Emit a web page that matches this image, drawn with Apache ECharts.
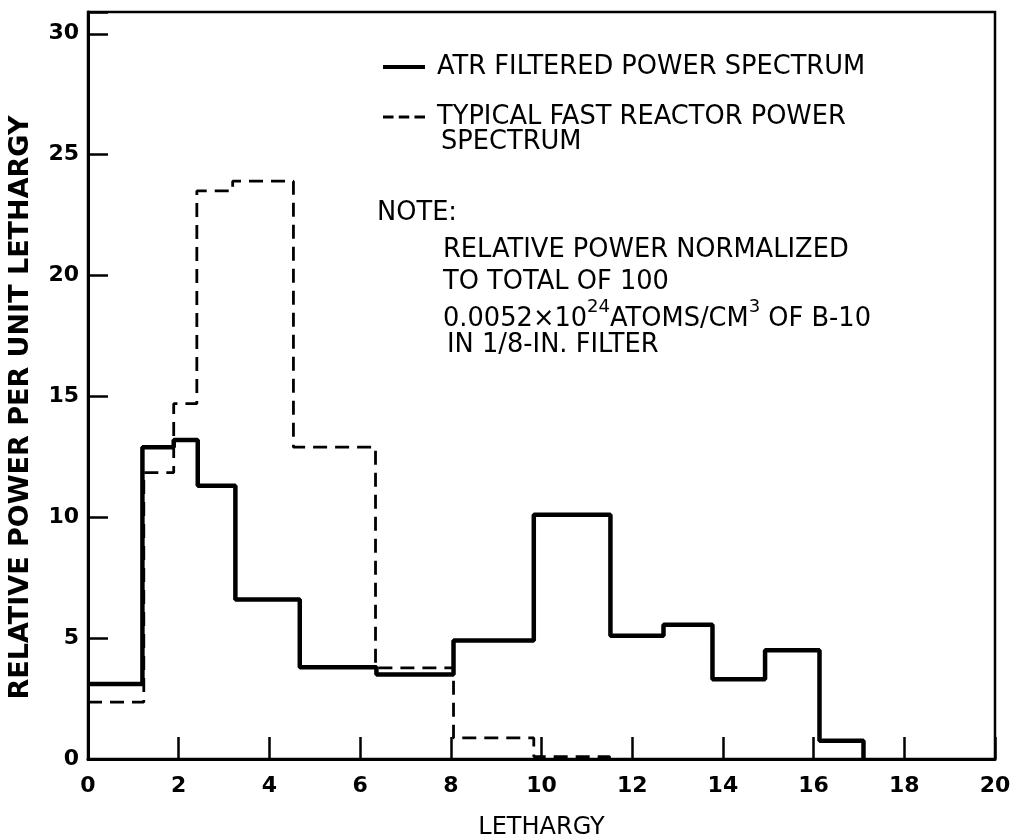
<!DOCTYPE html>
<html>
<head>
<meta charset="utf-8">
<script src="https://cdn.jsdelivr.net/npm/echarts@6/dist/echarts.min.js"></script>
<style>
  html, body { margin: 0; padding: 0; background: #fff; }
  #chart { width: 1016px; height: 838px; }
</style>
</head>
<body>
<div id="chart"></div>
<script>
// bin edges (lethargy) and power per unit lethargy
const atrEdges = [0, 1.2, 1.89, 2.42, 3.25, 4.67, 6.36, 8.06, 9.83, 11.52, 12.69, 13.77, 14.93, 16.13, 17.1];
const atrValues = [3.1, 12.9, 13.2, 11.3, 6.6, 3.8, 3.5, 4.9, 10.1, 5.1, 5.55, 3.3, 4.5, 0.75, 0];
const fastEdges = [0, 1.23, 1.89, 2.4, 3.19, 4.53, 6.34, 8.06, 9.83, 11.5];
const fastValues = [2.35, 11.85, 14.7, 23.5, 23.9, 12.9, 3.77, 0.87, 0.1, 0];
const xTicks = [0, 2, 4, 6, 8, 10, 12, 14, 16, 18, 20];
const yTicks = [0, 5, 10, 15, 20, 25, 30];

const FONT = '"DejaVu Sans", sans-serif';
const TXT = '25.7px ' + FONT;
const ATR_NAME = 'ATR FILTERED POWER SPECTRUM';
const FAST_NAME = 'TYPICAL FAST REACTOR POWER';

const pairs = (xs, ys) => xs.map((x, i) => [x, ys[i]]);

// note lines under the legend
const noteText = (x, y, text) => ({
  type: 'text', x, y,
  style: { text, font: TXT, fill: '#000', verticalAlign: 'middle' }
});

const chart = echarts.init(document.getElementById('chart'));
chart.setOption({
  backgroundColor: '#fff',
  animation: false,
  grid: {
    left: 88, right: 21, top: 12, bottom: 79,
    outerBoundsMode: 'none',
    containLabel: false,
    show: true,
    borderColor: '#000',
    borderWidth: 2.5
  },
  legend: {
    orient: 'vertical',
    left: 378, top: 47,
    itemWidth: 42, itemHeight: 4,
    itemGap: 20,
    data: [
      { name: ATR_NAME, icon: 'rect' },
      { name: FAST_NAME, icon: 'path://M0,0h10v3h-10z M15,0h10v3h-10z M30,0h10v3h-10z' }
    ],
    textStyle: { fontFamily: FONT, fontSize: 25.7, lineHeight: 30, color: '#000', padding: [0, 0, 0, 7] }
  },
  xAxis: {
    type: 'value',
    min: 0, max: 20, interval: 2,
    name: 'LETHARGY',
    nameLocation: 'middle',
    nameGap: 57,
    nameTextStyle: { fontFamily: FONT, fontSize: 24, color: '#000' },
    axisLine: { lineStyle: { color: '#000', width: 3 } },
    axisTick: { inside: true, length: 22, lineStyle: { color: '#000', width: 2.5 } },
    axisLabel: {
      margin: 16, color: '#000', fontFamily: FONT, fontSize: 22, fontWeight: 'bold',
      formatter: v => xTicks.includes(v) ? String(v) : ''
    },
    splitLine: { show: false }
  },
  yAxis: {
    type: 'value',
    min: 0, max: 30.9, interval: 5,
    name: 'RELATIVE POWER PER UNIT LETHARGY',
    nameLocation: 'middle',
    nameGap: 54,
    nameRotate: 90,
    nameTextStyle: { fontFamily: FONT, fontSize: 27, fontWeight: 'bold', color: '#000', padding: [0, 0, 0, -44] },
    axisLine: { lineStyle: { color: '#000', width: 3 } },
    axisTick: { inside: true, length: 20, lineStyle: { color: '#000', width: 2.5 } },
    axisLabel: {
      margin: 9, color: '#000', fontFamily: FONT, fontSize: 22, fontWeight: 'bold',
      formatter: v => yTicks.includes(v) ? String(v) : ''
    },
    splitLine: { show: false }
  },
  series: [
    {
      name: FAST_NAME,
      type: 'line',
      step: 'end',
      symbol: 'none',
      data: pairs(fastEdges, fastValues),
      lineStyle: { color: '#000', width: 2.8, type: [14, 8] },
      itemStyle: { color: '#000' },
      z: 2
    },
    {
      name: ATR_NAME,
      type: 'line',
      step: 'end',
      symbol: 'none',
      data: pairs(atrEdges, atrValues),
      lineStyle: { color: '#000', width: 4.5 },
      itemStyle: { color: '#000' },
      z: 3
    }
  ],
  graphic: [
    noteText(441, 142, 'SPECTRUM'),
    noteText(377, 213, 'NOTE:'),
    noteText(443, 250, 'RELATIVE POWER NORMALIZED'),
    noteText(443, 282, 'TO TOTAL OF 100'),
    {
      type: 'text', x: 443, y: 315,
      style: {
        text: '{n|0.0052×10}{s|24}{n|ATOMS/CM}{s|3}{n| OF B-10}',
        verticalAlign: 'middle',
        rich: {
          n: { font: TXT, fill: '#000', verticalAlign: 'bottom', lineHeight: 34 },
          s: { font: '18px ' + FONT, fill: '#000', verticalAlign: 'top', lineHeight: 34 }
        }
      }
    },
    noteText(447, 345, 'IN 1/8-IN. FILTER')
  ]
});
</script>
</body>
</html>
